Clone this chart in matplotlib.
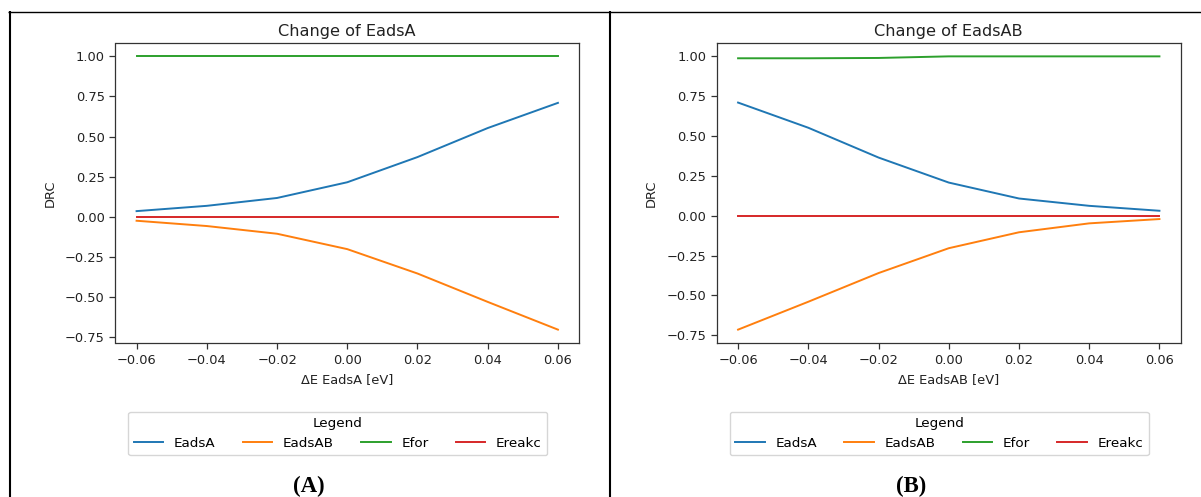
import numpy as np
import matplotlib
matplotlib.use("Agg")
import matplotlib.pyplot as plt
from matplotlib.lines import Line2D

# energy shift applied to the perturbed species [eV]
delta_e = [-0.06, -0.04, -0.02, 0.00, 0.02, 0.04, 0.06]

# DRC values when EadsA is shifted
drc_a = {
    "EadsA": [0.035, 0.068, 0.117, 0.215, 0.372, 0.553, 0.710],
    "EadsAB": [-0.025, -0.058, -0.106, -0.202, -0.354, -0.531, -0.704],
    "Efor": [1.0, 1.0, 1.0, 1.0, 1.0, 1.0, 1.0],
    "Ereakc": [0.0, 0.0, 0.0, 0.0, 0.0, 0.0, 0.0],
}

# DRC values when EadsAB is shifted
drc_b = {
    "EadsA": [0.710, 0.552, 0.365, 0.208, 0.108, 0.062, 0.031],
    "EadsAB": [-0.715, -0.540, -0.360, -0.204, -0.104, -0.048, -0.021],
    "Efor": [0.988, 0.988, 0.990, 1.0, 1.0, 1.0, 1.0],
    "Ereakc": [0.0, 0.0, 0.0, 0.0, 0.0, 0.0, 0.0],
}

series_names = ["EadsA", "EadsAB", "Efor", "Ereakc"]
colors = ["#1f77b4", "#ff7f0e", "#2ca02c", "#d62728"]
y_ticks = [-0.75, -0.50, -0.25, 0.00, 0.25, 0.50, 0.75, 1.00]
x_ticks = [-0.06, -0.04, -0.02, 0.00, 0.02, 0.04, 0.06]

W, H = 1201, 497
fig = plt.figure(figsize=(W / 100, H / 100), dpi=100)
fig.patch.set_facecolor("white")


def px(x0, y0):
    # pixel position (from top-left) -> figure fraction
    return x0 / W, 1 - y0 / H


def fmt(v):
    return f"{v:.2f}".replace("-", "\u2212")


panels = [
    (115.5, drc_a, "Change of EadsA", "ΔE EadsA [eV]", "(A)", 309),
    (717.0, drc_b, "Change of EadsAB", "ΔE EadsAB [eV]", "(B)", 911),
]

for left, data, title, xlabel, tag, tag_x in panels:
    ax = fig.add_axes([left / W, 1 - 343.3 / H, 463.5 / W, 300.6 / H])
    for name, c in zip(series_names, colors):
        ax.plot(delta_e, data[name], color=c, linewidth=1.4, label=name)

    ax.set_xticks(x_ticks)
    ax.set_xticklabels([fmt(v) for v in x_ticks])
    ax.set_yticks(y_ticks)
    ax.set_yticklabels([fmt(v) for v in y_ticks])
    ax.tick_params(labelsize=9.4, length=4.3, width=0.9, pad=3.5,
                   colors="#333333", labelcolor="#222222")
    for sp in ax.spines.values():
        sp.set_color("#333333")
        sp.set_linewidth(0.9)

    ax.set_title(title, fontsize=11.6, color="#222222", pad=5)
    ax.set_xlabel(xlabel, fontsize=9.4, color="#222222", labelpad=4)
    ax.set_ylabel("DRC", fontsize=9.4, color="#222222", labelpad=6)

    # legend box under each plot
    handles = [Line2D([], [], color=c, linewidth=1.4) for c in colors]
    lx, ly = px(left - 9.5 + 463.5 / 2, 411.7)
    fig.legend(handles, series_names, title="Legend", ncol=4,
               loc="upper center", bbox_to_anchor=(lx, ly), borderaxespad=0,
               fontsize=9.7, title_fontsize=9.7, handlelength=2.2,
               handletextpad=0.8, columnspacing=2.0, borderpad=0.4,
               framealpha=0.8, edgecolor="#cccccc")

    tx, ty = px(tag_x, 475.5)
    fig.text(tx, ty, tag, ha="center", va="top", fontsize=16.5,
             fontweight="bold", family="Liberation Serif", color="black")

# table borders around the two panels
border = dict(color="black", solid_capstyle="butt", transform=fig.transFigure)
fig.add_artist(Line2D([8 / W, 1], [1 - 11.5 / H] * 2, linewidth=1.0, **border))
fig.add_artist(Line2D([9.5 / W] * 2, [1 - 10.5 / H, 0], linewidth=1.5, **border))
fig.add_artist(Line2D([610 / W] * 2, [1 - 10.5 / H, 0], linewidth=1.5, **border))

fig.savefig("out.png", dpi=100, facecolor="white")
